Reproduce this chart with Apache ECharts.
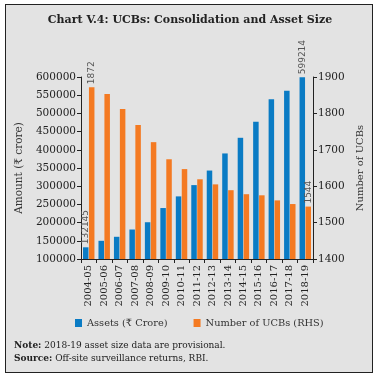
<!DOCTYPE html>
<html><head><meta charset="utf-8">
<script src="https://cdn.jsdelivr.net/npm/echarts@6/dist/echarts.min.js"></script>
<style>
html,body{margin:0;padding:0;background:#fff;}
#wrap{position:absolute;left:5px;top:4px;width:366px;height:367px;border:1px solid #222;background:#e3e3e3;}
#c{position:absolute;left:0;top:0;width:380px;height:380px;}
</style></head>
<body>
<div id="wrap"></div>
<div id="c"></div>
<script>
const categories = ['2004-05','2005-06','2006-07','2007-08','2008-09','2009-10','2010-11','2011-12','2012-13','2013-14','2014-15','2015-16','2016-17','2017-18','2018-19'];
const assets = [132145,150000,161000,181000,201000,240000,272000,303000,343000,390000,433000,477000,539000,562000,599214];
const ucbs = [1872,1853,1812,1768,1721,1674,1647,1619,1605,1589,1578,1575,1561,1551,1544];
const leftTicks = [100000,600000,50000];
const rightTicks = [1400,1900,100];

const serif = '"DejaVu Serif", "Liberation Serif", serif';
const last = categories.length - 1;
const lbl = {show:true, position:'top', rotate:90, align:'left', verticalAlign:'middle', distance:3,
  color:'#555', fontSize:9, fontFamily:'"DejaVu Sans", sans-serif',
  formatter: p => (p.dataIndex === 0 || p.dataIndex === last) ? String(p.value) : ''};
const plain = v => String(v);

const chart = echarts.init(document.getElementById('c'), null, {renderer:'canvas'});
chart.setOption({
  animation:false,
  backgroundColor:'transparent',
  title:{text:'Chart V.4: UCBs: Consolidation and Asset Size', left:'center', top:10,
    textStyle:{fontFamily:serif, fontWeight:'bold', fontSize:11, color:'#222'}},
  grid:{left:81, right:67, top:77, bottom:121},
  legend:{bottom:47, left:70, itemWidth:7, itemHeight:8, itemGap:26,
    textStyle:{fontFamily:serif, fontSize:9.8, color:'#333'},
    data:[{name:'Assets (₹ Crore)', icon:'rect'},{name:'Number of UCBs (RHS)', icon:'rect'}]},
  xAxis:{type:'category', data:categories,
    axisLine:{lineStyle:{color:'#222'}}, axisTick:{show:true, length:4, lineStyle:{color:'#222'}},
    axisLabel:{rotate:90, fontFamily:serif, fontSize:10, color:'#222', margin:6}},
  yAxis:[
    {type:'value', min:leftTicks[0], max:leftTicks[1], interval:leftTicks[2],
     name:'Amount (₹ crore)', nameLocation:'middle', nameGap:56, nameRotate:90,
     nameTextStyle:{fontFamily:serif, fontSize:10.5, color:'#333'},
     splitLine:{show:false},
     axisLine:{show:true, lineStyle:{color:'#222'}}, axisTick:{show:true, length:4, lineStyle:{color:'#222'}},
     axisLabel:{fontFamily:serif, fontSize:10.5, color:'#222', margin:5, formatter:plain}},
    {type:'value', min:rightTicks[0], max:rightTicks[1], interval:rightTicks[2],
     name:'Number of UCBs', nameLocation:'middle', nameGap:40, nameRotate:90,
     nameTextStyle:{fontFamily:serif, fontSize:10, color:'#333'},
     splitLine:{show:false},
     axisLine:{show:true, lineStyle:{color:'#222'}}, axisTick:{show:true, length:4, lineStyle:{color:'#222'}},
     axisLabel:{fontFamily:serif, fontSize:10.5, color:'#222', margin:5, formatter:plain}}
  ],
  series:[
    {name:'Assets (₹ Crore)', type:'bar', yAxisIndex:0, data:assets, barWidth:5.5, barGap:'8%',
     itemStyle:{color:'#0a7bc4'}, label:lbl},
    {name:'Number of UCBs (RHS)', type:'bar', yAxisIndex:1, data:ucbs, barWidth:5.5,
     itemStyle:{color:'#f47a22'}, label:lbl}
  ],
  graphic:[
    {type:'text', left:14, top:341, style:{rich:{b:{fontWeight:'bold', fontFamily:serif, fontSize:9, fill:'#222'}, n:{fontFamily:serif, fontSize:9, fill:'#222'}},
      text:'{b|Note:}{n| 2018-19 asset size data are provisional.}'}},
    {type:'text', left:14, top:354, style:{rich:{b:{fontWeight:'bold', fontFamily:serif, fontSize:9, fill:'#222'}, n:{fontFamily:serif, fontSize:9, fill:'#222'}},
      text:'{b|Source:}{n| Off-site surveillance returns, RBI.}'}}
  ]
});
</script>
</body></html>
